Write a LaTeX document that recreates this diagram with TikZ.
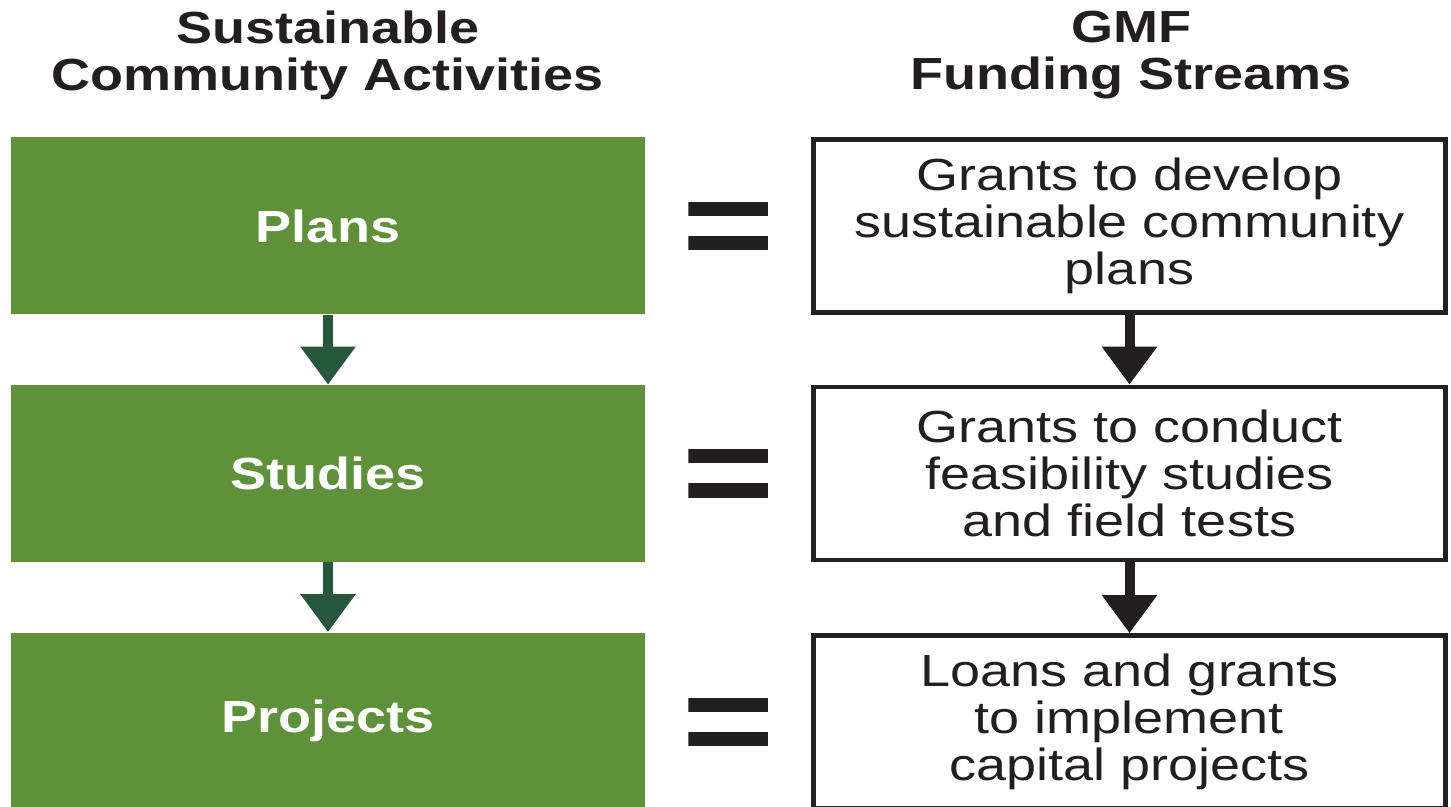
\documentclass[tikz,border=0pt]{standalone}
\usepackage{fontspec}
\setmainfont{Liberation Sans}[FakeStretch=1.2]
\usetikzlibrary{arrows.meta,calc}

\definecolor{actgreen}{RGB}{94,145,57}
\definecolor{arrowgreen}{RGB}{40,88,60}
\definecolor{inkblack}{RGB}{35,31,32}

\tikzset{
  heading/.style={align=center, text=inkblack, font=\bfseries\fontsize{22.5}{23.5}\selectfont},
  activity/.style={fill=actgreen, text=white, inner sep=0pt,
    minimum width=317pt, minimum height=88.5pt,
    font=\bfseries\fontsize{22.5}{23.5}\selectfont},
  stream/.style={draw=inkblack, line width=2.4pt, fill=white, text=inkblack,
    inner sep=0pt, align=center, minimum width=316pt, minimum height=86.5pt,
    font=\fontsize{22.5}{23.5}\selectfont},
  equals/.style={inner sep=0pt, minimum width=40pt, minimum height=24pt,
    path picture={
      \fill[inkblack] (path picture bounding box.north west) rectangle ([yshift=-7pt]path picture bounding box.north east);
      \fill[inkblack] (path picture bounding box.south west) rectangle ([yshift=7pt]path picture bounding box.south east);
    }},
  flow/.style={line width=5pt, -{Triangle[length=19pt,width=26.5pt]}}
}

\begin{document}
\begin{tikzpicture}[x=0.5pt,y=0.5pt]
  \useasboundingbox (0,0) rectangle (1451,-807);

  % column headings
  \node[heading] (acthead) at (328,-55) {Sustainable\\Community Activities};
  \node[heading] (gmfhead) at (1131,-55) {GMF\\Funding Streams};

  % activities
  \node[activity] (plans)    at (328,-226)   {Plans};
  \node[activity] (studies)  at (328,-473.5) {Studies};
  \node[activity] (projects) at (328,-721)   {Projects};

  % funding streams
  \node[stream] (grantsplan)  at (1129.5,-226)   {Grants to develop\\sustainable community\\plans};
  \node[stream] (grantsstudy) at (1129.5,-473.5) {Grants to conduct\\feasibility studies\\and field tests};
  \node[stream] (loans)       at (1129.5,-722)   {Loans and grants\\to implement\\capital projects};

  % equals signs
  \node[equals] (eqplans)    at ($(plans.east)!0.5!(grantsplan.west)$) {};
  \node[equals] (eqstudies)  at ($(studies.east)!0.5!(grantsstudy.west)$) {};
  \node[equals] (eqprojects) at ($(projects.east)!0.5!(loans.west)$) {};

  % arrows
  \draw[flow, arrowgreen] (plans) -- (studies);
  \draw[flow, arrowgreen] (studies) -- (projects);
  \draw[flow, inkblack] (grantsplan) -- (grantsstudy);
  \draw[flow, inkblack] (grantsstudy) -- (loans);
\end{tikzpicture}
\end{document}
